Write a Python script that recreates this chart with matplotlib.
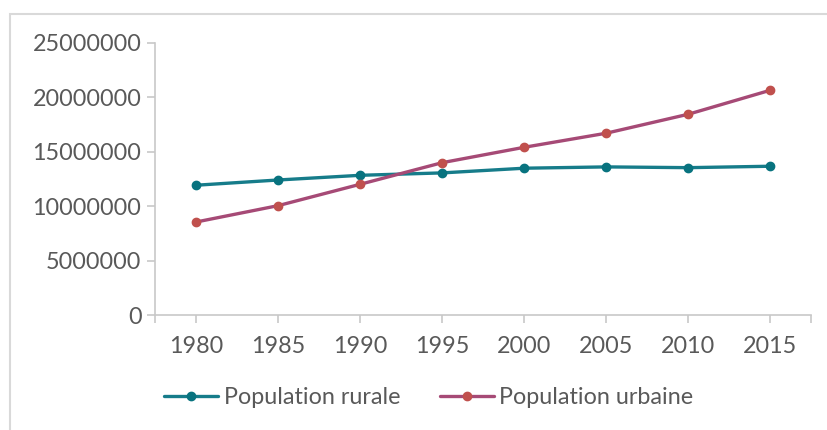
import matplotlib.pyplot as plt
from matplotlib.patches import Rectangle

# données
annees = ['1980', '1985', '1990', '1995', '2000', '2005', '2010', '2015']
rurale = [11930000, 12410000, 12840000, 13060000, 13490000, 13610000, 13540000, 13670000]
urbaine = [8560000, 10060000, 12020000, 14000000, 15410000, 16700000, 18440000, 20640000]
yticks = [0, 5000000, 10000000, 15000000, 20000000, 25000000]

gris = '#595959'
plt.rcParams['font.family'] = ['Lato', 'DejaVu Sans']
fs = 16.8

fig = plt.figure(figsize=(8.28, 4.30), dpi=100)
ax = fig.add_axes([155.3 / 828, 1 - 315.3 / 430, 656 / 828, (315.3 - 42.7) / 430])

x = range(len(annees))
ax.plot(x, rurale, color='#167C8A', lw=2.4, marker='o', ms=6,
        mfc='#08737F', mec='#08737F', label='Population rurale', solid_capstyle='round')
ax.plot(x, urbaine, color='#A64A76', lw=2.4, marker='o', ms=6,
        mfc='#C0504D', mec='#C0504D', label='Population urbaine', solid_capstyle='round')

ax.set_xlim(-0.5, len(annees) - 0.5)
ax.set_ylim(0, 25000000)
ax.set_yticks(yticks)
ax.set_yticklabels([str(v) for v in yticks])
ax.set_xticks(list(x))
ax.set_xticklabels(annees)
ax.set_xticks([-0.5, len(annees) - 0.5], minor=True)

for s in ['top', 'right']:
    ax.spines[s].set_visible(False)
for s in ['left', 'bottom']:
    ax.spines[s].set_color('#C8C8C8')
    ax.spines[s].set_linewidth(1.2)
ax.tick_params(axis='both', which='both', color='#C8C8C8', width=1.2, length=6,
               labelcolor=gris, labelsize=fs)
ax.tick_params(axis='x', pad=9)
ax.tick_params(axis='y', pad=4)

leg = fig.legend(loc='center', bbox_to_anchor=(0.518, 1 - 397.5 / 430), ncol=2,
                 frameon=False, fontsize=fs, handlelength=2.3, handletextpad=0.25,
                 columnspacing=1.7)
for t in leg.get_texts():
    t.set_color(gris)

# cadre du graphique
fig.patches.append(Rectangle((9.5 / 828, -0.1), 1.0, 1 - 13.5 / 430 + 0.1,
                             transform=fig.transFigure, fill=False,
                             edgecolor='#D9D9D9', lw=1.5))

fig.savefig('out.png', dpi=100)
